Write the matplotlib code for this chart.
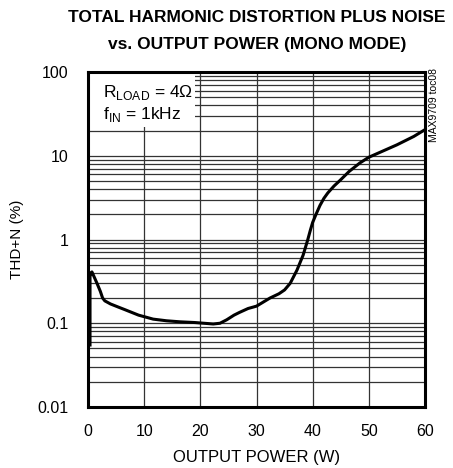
import matplotlib
matplotlib.use("Agg")
import matplotlib.pyplot as plt
from matplotlib.patches import Rectangle
from matplotlib.ticker import LogLocator, NullFormatter

plt.rcParams['font.family'] = ['Liberation Sans', 'DejaVu Sans']
plt.rcParams['mathtext.fontset'] = 'custom'
plt.rcParams['mathtext.rm'] = 'Liberation Sans'

# curve
power_w = [0.36, 0.36, 0.5, 0.7, 1.0, 1.6, 2.2, 2.6, 3.0, 4.0, 5.5, 6.6, 9.0,
           11.6, 14.0, 16.4, 19.0, 22.3, 23.5, 24.7, 26.0, 27.0, 28.5, 30.0,
           32.4, 34.0, 35.0, 36.0, 37.2, 38.3, 39.1, 39.6, 40.0, 40.6, 41.3,
           42.0, 42.7, 43.8, 44.9, 46.5, 48.4, 50.0, 52.0, 55.0, 58.0, 60.0]
thd_pct = [0.055, 0.36, 0.40, 0.41, 0.37, 0.30, 0.24, 0.20, 0.185, 0.17, 0.155,
           0.145, 0.125, 0.112, 0.107, 0.104, 0.102, 0.098, 0.10, 0.11, 0.125,
           0.135, 0.15, 0.16, 0.20, 0.225, 0.25, 0.30, 0.43, 0.65, 0.98, 1.3,
           1.6, 2.0, 2.55, 3.1, 3.6, 4.35, 5.1, 6.5, 8.2, 9.6, 11.0, 13.5, 17.0,
           20.5]

x_ticks = [0, 10, 20, 30, 40, 50, 60]
y_ticks = [0.01, 0.1, 1, 10, 100]
y_labels = ["0.01", "0.1", "1", "10", "100"]

fig = plt.figure(figsize=(4.53, 4.68), dpi=100)
ax = fig.add_axes([88 / 453, 1 - 407 / 468, 337 / 453, 335 / 468])

ax.set_yscale('log')
ax.set_xlim(0, 60)
ax.set_ylim(0.01, 100)
ax.set_xticks(x_ticks)
ax.set_xticklabels([str(v) for v in x_ticks])
ax.set_yticks(y_ticks)
ax.set_yticklabels(y_labels)
ax.yaxis.set_minor_locator(LogLocator(base=10, subs=range(2, 10)))
ax.yaxis.set_minor_formatter(NullFormatter())
ax.tick_params(which='both', length=0, labelsize=11.5)
ax.tick_params(axis='x', pad=12)
ax.tick_params(axis='y', pad=14)

ax.grid(True, which='major', color='#333333', linewidth=0.9)
ax.grid(True, which='minor', axis='y', color='#333333', linewidth=0.9)
ax.set_axisbelow(True)
for s in ax.spines.values():
    s.set_linewidth(2.2)
    s.set_color('black')

ax.plot(power_w, thd_pct, color='black', linewidth=2.2, zorder=3,
        solid_joinstyle='round')

ax.set_xlabel("OUTPUT POWER (W)", fontsize=12, labelpad=8)
ax.set_ylabel("THD+N (%)", fontsize=11, labelpad=10)

fig.text(257 / 453, 1 - 18 / 468, "TOTAL HARMONIC DISTORTION PLUS NOISE",
         ha='center', va='center', fontsize=12.5, fontweight='bold')
fig.text(257 / 453, 1 - 44 / 468, "vs. OUTPUT POWER (MONO MODE)",
         ha='center', va='center', fontsize=12.5, fontweight='bold')

# white label box in the top-left corner
ax.add_patch(Rectangle((0, 0.836), 0.318, 0.164, transform=ax.transAxes,
                       facecolor='white', edgecolor='none', zorder=2.5))
ax.text(0.045, 0.94, "R$_{\\mathrm{LOAD}}$ = 4Ω", transform=ax.transAxes,
        ha='left', va='center', fontsize=12.5, zorder=4)
ax.text(0.045, 0.872, "f$_{\\mathrm{IN}}$ = 1kHz", transform=ax.transAxes,
        ha='left', va='center', fontsize=12.5, zorder=4)

fig.text(434 / 453, 1 - 68 / 468, "MAX9709 toc08", rotation=90,
         ha='center', va='top', fontsize=7.5)

fig.savefig("out.png", dpi=100)
